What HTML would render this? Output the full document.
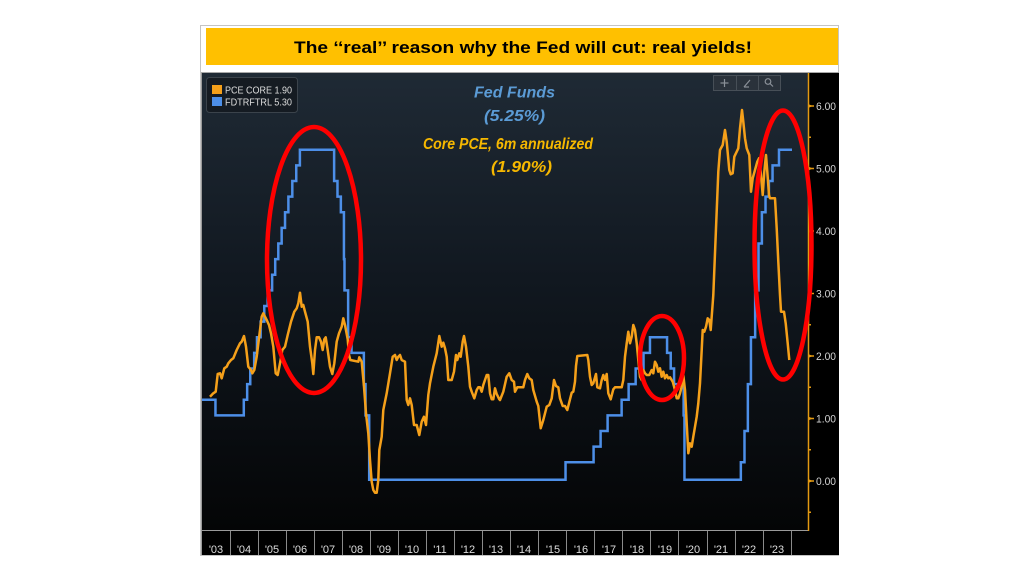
<!DOCTYPE html>
<html><head><meta charset="utf-8"><style>
html,body{margin:0;padding:0;background:#fff;}
svg{display:block;}
text{font-family:"Liberation Sans",sans-serif;}
</style></head><body>
<svg width="1024" height="576" viewBox="0 0 1024 576" xmlns="http://www.w3.org/2000/svg">
<defs>
<linearGradient id="bg" x1="0" y1="0" x2="0" y2="1">
<stop offset="0" stop-color="#1f2a35"/>
<stop offset="0.45" stop-color="#111820"/>
<stop offset="1" stop-color="#040506"/>
</linearGradient>
</defs>
<rect width="1024" height="576" fill="#fff"/>
<!-- frame -->
<rect x="200.5" y="25.5" width="638" height="530" fill="#fff" stroke="#c4c4c4" stroke-width="1"/>
<!-- title -->
<rect x="206" y="28" width="632" height="37" fill="#ffc000"/>
<text x="294" y="53" font-size="17" font-weight="bold" fill="#000" textLength="458" lengthAdjust="spacingAndGlyphs">The &#8216;&#8216;real&#8217;&#8217; reason why the Fed will cut: real yields!</text>
<!-- chart areas -->
<line x1="201" y1="72.5" x2="839" y2="72.5" stroke="#a8a8a8" stroke-width="1"/>
<rect x="202" y="73" width="606" height="457" fill="url(#bg)"/>
<rect x="808" y="73" width="31" height="482" fill="#000"/>
<rect x="202" y="530" width="606" height="25" fill="#000"/>
<line x1="201.5" y1="73" x2="201.5" y2="555" stroke="#9a9a9a" stroke-width="1"/>
<line x1="202" y1="530.5" x2="808" y2="530.5" stroke="#9a9a9a" stroke-width="1"/>
<!-- x band separators -->
<g stroke="#8a8a8a" stroke-width="1">
<line x1="230.5" y1="531" x2="230.5" y2="555"/><line x1="258.5" y1="531" x2="258.5" y2="555"/>
<line x1="286.5" y1="531" x2="286.5" y2="555"/><line x1="314.5" y1="531" x2="314.5" y2="555"/>
<line x1="342.5" y1="531" x2="342.5" y2="555"/><line x1="370.5" y1="531" x2="370.5" y2="555"/>
<line x1="398.5" y1="531" x2="398.5" y2="555"/><line x1="426.5" y1="531" x2="426.5" y2="555"/>
<line x1="454.5" y1="531" x2="454.5" y2="555"/><line x1="482.5" y1="531" x2="482.5" y2="555"/>
<line x1="510.5" y1="531" x2="510.5" y2="555"/><line x1="538.5" y1="531" x2="538.5" y2="555"/>
<line x1="566.5" y1="531" x2="566.5" y2="555"/><line x1="594.5" y1="531" x2="594.5" y2="555"/>
<line x1="622.5" y1="531" x2="622.5" y2="555"/><line x1="650.5" y1="531" x2="650.5" y2="555"/>
<line x1="678.5" y1="531" x2="678.5" y2="555"/><line x1="707.5" y1="531" x2="707.5" y2="555"/>
<line x1="735.5" y1="531" x2="735.5" y2="555"/><line x1="763.5" y1="531" x2="763.5" y2="555"/>
<line x1="791.5" y1="531" x2="791.5" y2="555"/>
</g>
<g font-size="11" fill="#dcdcdc" text-anchor="middle">
<text x="216" y="553">'03</text><text x="244" y="553">'04</text><text x="272" y="553">'05</text>
<text x="300" y="553">'06</text><text x="328" y="553">'07</text><text x="356" y="553">'08</text>
<text x="384" y="553">'09</text><text x="412" y="553">'10</text><text x="440" y="553">'11</text>
<text x="468" y="553">'12</text><text x="496" y="553">'13</text><text x="524" y="553">'14</text>
<text x="553" y="553">'15</text><text x="581" y="553">'16</text><text x="609" y="553">'17</text>
<text x="637" y="553">'18</text><text x="665" y="553">'19</text><text x="693" y="553">'20</text>
<text x="721" y="553">'21</text><text x="749" y="553">'22</text><text x="777" y="553">'23</text>
</g>
<!-- y axis -->
<line x1="808.5" y1="73" x2="808.5" y2="531" stroke="#e39a12" stroke-width="1.5"/>
<g fill="#e39a12">
<path d="M808,104 L813,106 L808,108 Z"/><path d="M808,166.5 L813,168.5 L808,170.5 Z"/>
<path d="M808,229 L813,231 L808,233 Z"/><path d="M808,291.5 L813,293.5 L808,295.5 Z"/>
<path d="M808,354 L813,356 L808,358 Z"/><path d="M808,416.5 L813,418.5 L808,420.5 Z"/>
<path d="M808,479 L813,481 L808,483 Z"/>
</g>
<g stroke="#e39a12" stroke-width="1.5">
<line x1="808" y1="106" x2="814" y2="106"/><line x1="808" y1="168.5" x2="814" y2="168.5"/>
<line x1="808" y1="231" x2="814" y2="231"/><line x1="808" y1="293.5" x2="814" y2="293.5"/>
<line x1="808" y1="356" x2="814" y2="356"/><line x1="808" y1="418.5" x2="814" y2="418.5"/>
<line x1="808" y1="481" x2="814" y2="481"/>
<line x1="808" y1="137.25" x2="811" y2="137.25"/><line x1="808" y1="199.75" x2="811" y2="199.75"/>
<line x1="808" y1="262.25" x2="811" y2="262.25"/><line x1="808" y1="324.75" x2="811" y2="324.75"/>
<line x1="808" y1="387.25" x2="811" y2="387.25"/><line x1="808" y1="449.75" x2="811" y2="449.75"/>
<line x1="808" y1="512.25" x2="811" y2="512.25"/>
</g>
<g font-size="11" fill="#d4d4d4">
<text x="816" y="110" textLength="20" lengthAdjust="spacingAndGlyphs">6.00</text>
<text x="816" y="172.5" textLength="20" lengthAdjust="spacingAndGlyphs">5.00</text>
<text x="816" y="235" textLength="20" lengthAdjust="spacingAndGlyphs">4.00</text>
<text x="816" y="297.5" textLength="20" lengthAdjust="spacingAndGlyphs">3.00</text>
<text x="816" y="360" textLength="20" lengthAdjust="spacingAndGlyphs">2.00</text>
<text x="816" y="422.5" textLength="20" lengthAdjust="spacingAndGlyphs">1.00</text>
<text x="816" y="485" textLength="20" lengthAdjust="spacingAndGlyphs">0.00</text>
</g>
<!-- legend -->
<rect x="206.5" y="77.5" width="91" height="35" rx="3" fill="#151b22" stroke="#3b434b"/>
<rect x="212" y="85" width="10" height="9" fill="#f5a01a"/>
<rect x="212" y="97" width="10" height="9" fill="#4d8fe8"/>
<text x="225" y="93.5" font-size="10.5" fill="#dcdcdc" textLength="67" lengthAdjust="spacingAndGlyphs">PCE CORE  1.90</text>
<text x="225" y="105.5" font-size="10.5" fill="#dcdcdc" textLength="67" lengthAdjust="spacingAndGlyphs">FDTRFTRL  5.30</text>
<!-- toolbar -->
<rect x="713.5" y="75.5" width="67" height="15" fill="#2a323b" stroke="#474f57"/>
<line x1="736.5" y1="76" x2="736.5" y2="90" stroke="#474f57"/>
<line x1="758.5" y1="76" x2="758.5" y2="90" stroke="#474f57"/>
<g stroke="#8a9098" stroke-width="1.2" fill="none">
<line x1="724.5" y1="79" x2="724.5" y2="87"/><line x1="720.5" y1="83" x2="728.5" y2="83"/>
<line x1="744" y1="87" x2="750" y2="80"/><line x1="744" y1="87" x2="749" y2="87"/>
<circle cx="768" cy="81.5" r="2.8"/><line x1="770" y1="83.5" x2="773" y2="86.5"/>
</g>
<!-- Fed funds -->
<path fill="none" stroke="#4d8fe8" stroke-width="2.5" stroke-linejoin="miter" d="M202,399.75 H215.46 V415.4 H243.79 V399.75 H247.16 V384.1 H250.25 V368.5 H254.17 V352.9 H256.98 V337.25 H260.62 V321.6 H264.27 V306 H267.64 V290.4 H272.13 V274.75 H275.21 V259.1 H278.3 V243.5 H281.66 V227.9 H285.03 V212.25 H288.39 V196.6 H292.32 V181 H296.25 V165.4 H299.89 V149.75 H334.12 V181 H337.48 V196.6 H340.85 V212.25 H343.93 V259.1 H344.49 V290.4 H348.14 V337.25 H351.51 V352.9 H363.85 V384.1 H365.53 V415.4 H369.18 V479.75 H565.53 V462.25 H593.58 V446.6 H600.59 V431 H607.6 V415.4 H621.63 V399.75 H628.64 V384.1 H635.65 V368.5 H643.51 V352.9 H649.96 V337.25 H667.07 V352.9 H670.72 V368.5 H674.08 V384.1 H683.62 V415.4 H684.46 V479.75 H740.84 V462.25 H744.49 V431 H747.85 V384.1 H750.94 V337.25 H755.15 V290.4 H758.51 V243.5 H761.88 V212.25 H765.52 V196.6 H768.89 V181 H772.54 V165.4 H778.99 V149.75 H792"/>
<!-- Core PCE -->
<polyline fill="none" stroke="#f5a01a" stroke-width="2.5" stroke-linejoin="round" points="210,396.7 213.3,393.3 215.7,391.7 217.7,374 220,373.3 221.7,378.3 224.3,368.3 226.7,366.7 228.3,363.3 231,360 233.3,358.3 236.7,350 240,343.3 241.7,341.7 244,336 246,346.7 248.3,366.7 251,370 252.3,373.3 254.3,370 256.7,356.7 260,330 261.7,316.7 263.3,313.3 265,316.7 266.7,320 269,325 271,333.3 273.3,346.7 275.7,373.3 277.7,375 280,363.3 282.3,350 285,346.7 287.7,335 291,321.7 294.3,311.7 296.7,308.3 298.3,303.3 300,292.7 301.7,306.7 303.3,305 305,311.7 307.7,321.7 310,346.7 312.3,363.3 313.3,374 315,350 316.7,337.3 319,337.3 321,341.7 322.7,350 324.3,339.3 325.7,337.3 327.7,350 330,366.7 332.3,374 334.3,363.3 336.7,341.7 339,333.3 341.7,326.7 343.3,318.3 345,325 347.7,339.3 349,355 350.3,360 358.3,361.7 359.3,357.3 361.7,361.7 364,386.7 366,413.3 368.3,433.3 370,460 371.7,481.7 373.3,490 375,492.7 376.7,492.7 378.3,480 379.3,450 381.7,436.7 383.3,410 386.7,393.3 390,373.3 392.7,356.7 395,355 396.7,360 398.3,356.7 400,355 401.7,360 405,361.7 406.7,400 408.3,405 410,398.3 411.7,405 414,425 416.7,425 419.3,435 421.7,421.7 424,416.7 426,425 428.3,395 430,383.3 433.3,366.7 436.7,353.3 439.3,336 441.7,346.7 443.3,342.7 445,348.3 446.7,356.7 448.3,380 451.7,380 454,371.7 456,355 457.3,360 459.3,353.3 460.7,356.7 462.7,341.7 464,336 466,346.7 468.3,366.7 470,386.7 471.7,391.7 474.3,398.3 476.7,390 478.3,387.3 480,387.3 481.7,391.7 483.3,385 486.7,375 488.3,375 490,393.3 491.7,399.3 493.3,399.3 495,388.3 496.7,394 499.3,399.3 500,400 503.3,391.7 506.7,376.7 509.3,373.3 511.7,380 514,381.7 515,391.7 517.3,387.3 523.3,387.3 525,380 527.3,374 529.3,378.3 531.7,380 533.3,390 536.7,401.7 538.3,406 540.7,428.3 543.3,420 546.7,406.7 549.3,405 551.7,398.3 554,380 556,386 558.3,387.3 560,398.3 562.7,406 565,406 567.3,410 570,399.3 571.7,392.7 573.3,391.7 575,381.7 576,366 577.3,356 587.3,355 588.3,360 590,376.7 591.7,385 593.3,383.3 596,374 597.3,387.3 600,388.3 601.7,380 603.3,375 605,380 606.7,374 608.3,393.3 610.7,399.3 613.3,389.3 615,387.3 621.7,387.3 623.3,380 625,356.7 626.7,343.3 628.3,331.7 630,343.3 631.7,336.7 633.3,325 635,330 636.7,343.3 638.3,360 640,376.7 641.7,380 643.3,370 645,373.3 646.7,375 649.3,375 651.7,370 653.3,373.3 655,361.7 656.7,365 658.3,371.7 660,368.3 661.7,376.7 663.3,371.7 665,378.3 666.7,375 668.3,378.3 670,377.3 672.7,381.7 675,390 676.7,398.3 678.3,398.3 680,393.3 681.7,386.7 683.3,375 685,390 686.7,423.3 688.3,453.3 690,443.3 691.7,446.7 693.3,436.7 695,426.7 696.7,416.7 698.3,403.3 700,383.3 701.7,350 702.7,330 704.3,331.7 706,326.7 707.7,318.3 709.3,320 710.7,330 711.7,316.7 712.7,303.3 713.3,295 716,228.3 718.3,171.7 720,150 722.7,145 725,130 726.7,141.7 729.3,170 730.7,174.3 732.7,173.3 734.3,156.7 736.7,151.7 738.3,148.3 740,128.3 742,110 743.3,121.7 745,138.3 746.7,148.3 749.3,155 751,191.7 752.7,178.3 755,170 757.3,161.7 759,158.3 760.7,171.7 762.7,195 764.3,171.7 766,155 767.3,171.7 769,195 770,198.3 775,198.3 776.7,228.3 778.3,261.7 780,295 781,311.7 784,311.7 785.7,323.3 787.7,343.3 789.3,360"/>
<!-- red ellipses -->
<g fill="none" stroke="#ff0000" stroke-width="4.5">
<ellipse cx="314" cy="260" rx="47" ry="133"/>
<ellipse cx="662" cy="358" rx="22" ry="42"/>
<ellipse cx="783" cy="245" rx="28.5" ry="134.5"/>
</g>
<!-- annotations -->
<g font-size="16" font-weight="bold" font-style="italic">
<text x="474" y="97.5" fill="#5b9bd5" textLength="81" lengthAdjust="spacingAndGlyphs">Fed Funds</text>
<text x="484" y="121" fill="#5b9bd5" textLength="61" lengthAdjust="spacingAndGlyphs">(5.25%)</text>
<text x="423" y="149" fill="#f6b800" textLength="170" lengthAdjust="spacingAndGlyphs">Core PCE, 6m annualized</text>
<text x="491" y="172" fill="#f6b800" textLength="61" lengthAdjust="spacingAndGlyphs">(1.90%)</text>
</g>
</svg>
</body></html>
